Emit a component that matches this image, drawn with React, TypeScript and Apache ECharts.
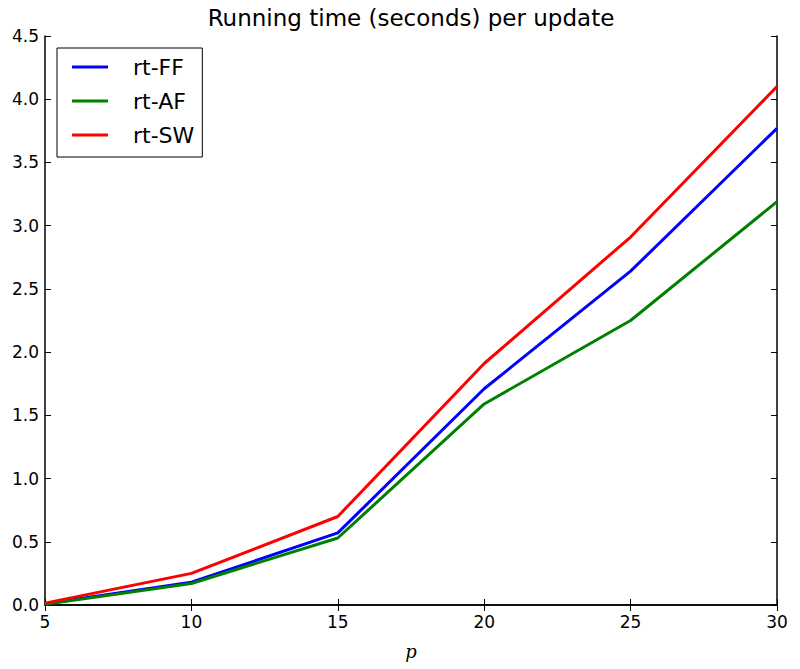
import React, { useEffect, useRef } from "react";
import * as echarts from "echarts";

const pValues = [5, 10, 15, 20, 25, 30];
const rtFF = [0.01, 0.18, 0.57, 1.71, 2.64, 3.77];
const rtAF = [0.005, 0.17, 0.53, 1.59, 2.25, 3.19];
const rtSW = [0.015, 0.25, 0.7, 1.91, 2.91, 4.1];
const seriesNames = ["rt-FF", "rt-AF", "rt-SW"];
const seriesColors = ["#0000ff", "#008000", "#ff0000"];

const FONT = "DejaVu Sans";

export default function App() {
  const ref = useRef<HTMLDivElement>(null);
  useEffect(() => {
    if (!ref.current) return;
    const chart = echarts.init(ref.current, null, { renderer: "svg" });
    const data = [rtFF, rtAF, rtSW];
    const axisCommon = {
      type: "value" as const,
      axisLine: { show: true, lineStyle: { color: "#000", width: 1.5 } },
      axisTick: { show: true, inside: true, length: 6, lineStyle: { color: "#000", width: 1 } },
      splitLine: { show: false },
    };
    chart.setOption({
      animation: false,
      backgroundColor: "#fff",
      title: {
        text: "Running time (seconds) per update",
        left: 411,
        textAlign: "center",
        top: 6,
        padding: 0,
        textStyle: { fontFamily: FONT, fontSize: 23, fontWeight: "normal", color: "#000" },
      },
      grid: { left: 45, right: 23, top: 36, bottom: 64, containLabel: false },
      legend: {
        orient: "vertical",
        left: 57,
        top: 48,
        data: seriesNames,
        icon: "path://M0,0 L36,0 L36,3 L0,3 Z",
        itemWidth: 36,
        itemHeight: 3,
        itemGap: 12,
        padding: [8, 8, 11, 15],
        borderColor: "#000",
        borderWidth: 1,
        borderRadius: 0,
        backgroundColor: "#fff",
        textStyle: { fontFamily: FONT, fontSize: 22, color: "#000", padding: [0, 0, 0, 20], lineHeight: 22 },
      },
      xAxis: [
        {
          ...axisCommon,
          position: "bottom",
          min: 5,
          max: 30,
          interval: 5,
          name: "p",
          nameLocation: "middle",
          nameGap: 37,
          nameTextStyle: { fontFamily: "DejaVu Serif", fontStyle: "italic", fontSize: 18, color: "#000" },
          axisLabel: { fontFamily: FONT, fontSize: 17, color: "#000", margin: 8 },
        },
        {
          ...axisCommon,
          position: "top",
          min: 5,
          max: 30,
          interval: 5,
          axisLabel: { show: false },
        },
      ],
      yAxis: [
        {
          ...axisCommon,
          position: "left",
          min: 0,
          max: 4.5,
          interval: 0.5,
          axisLabel: {
            fontFamily: FONT,
            fontSize: 17,
            color: "#000",
            margin: 6,
            formatter: (v: number) => v.toFixed(1),
          },
        },
        {
          ...axisCommon,
          position: "right",
          min: 0,
          max: 4.5,
          interval: 0.5,
          axisLabel: { show: false },
        },
      ],
      series: seriesNames.map((name, i) => ({
        name,
        type: "line",
        data: pValues.map((p, j) => [p, data[i][j]]),
        showSymbol: false,
        symbol: "none",
        lineStyle: { color: seriesColors[i], width: 3 },
        itemStyle: { color: seriesColors[i] },
        z: 3,
      })),
    });
    return () => chart.dispose();
  }, []);
  return (
    <div
      ref={ref}
      style={{ position: "absolute", left: 0, top: 0, width: 800, height: 669 }}
    />
  );
}
